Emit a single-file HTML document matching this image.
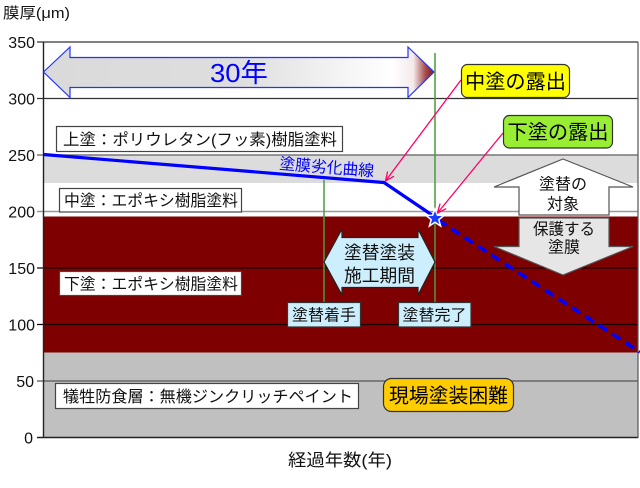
<!DOCTYPE html>
<html><head><meta charset="utf-8">
<style>
html,body{margin:0;padding:0;background:#fff;}
svg{display:block;}
text{font-family:"Liberation Sans","Noto Sans CJK JP",sans-serif;}
</style></head>
<body>
<svg width="640" height="488" viewBox="0 0 640 488" xmlns="http://www.w3.org/2000/svg">
<defs>
<linearGradient id="g30" x1="43" y1="0" x2="435" y2="0" gradientUnits="userSpaceOnUse">
<stop offset="0" stop-color="#dadada"/>
<stop offset="0.5" stop-color="#dedede"/>
<stop offset="0.89" stop-color="#ffffff"/>
<stop offset="0.945" stop-color="#f4eaea"/>
<stop offset="0.975" stop-color="#a65050"/>
<stop offset="1" stop-color="#7a1010"/>
</linearGradient>
<marker id="ah" markerWidth="10" markerHeight="10" refX="9" refY="5" orient="auto" markerUnits="userSpaceOnUse">
<path d="M0,1 L9,5 L0,9" fill="none" stroke="#ff0066" stroke-width="1.3"/>
</marker>
</defs>

<!-- bands -->
<rect x="43.5" y="42" width="594.5" height="395.5" fill="#ffffff"/>
<rect x="43.5" y="155" width="594.5" height="28" fill="#dcdcdc"/>
<rect x="43.5" y="216.5" width="594.5" height="136" fill="#7f0000"/>
<rect x="43.5" y="352.5" width="594.5" height="85" fill="#c0c0c0"/>

<!-- gridlines -->
<line x1="37" y1="42" x2="638" y2="42" stroke="#333" stroke-width="1.2"/>
<line x1="37" y1="98.5" x2="638" y2="98.5" stroke="#333" stroke-width="1.2"/>
<line x1="37" y1="155" x2="638" y2="155" stroke="#777" stroke-width="1.5"/>
<line x1="37" y1="211.5" x2="638" y2="211.5" stroke="#999" stroke-width="1.5"/>
<line x1="37" y1="268" x2="638" y2="268" stroke="#1a0000" stroke-width="1.2"/>
<line x1="37" y1="324.5" x2="638" y2="324.5" stroke="#1a0000" stroke-width="1.2"/>
<line x1="37" y1="381" x2="638" y2="381" stroke="#555" stroke-width="1.2"/>
<line x1="37" y1="437.5" x2="638" y2="437.5" stroke="#222" stroke-width="1.4"/>
<line x1="43.5" y1="42" x2="43.5" y2="438" stroke="#222" stroke-width="1.4"/>
<line x1="638" y1="42" x2="638" y2="438" stroke="#555" stroke-width="1.2"/>

<!-- y labels -->
<g font-size="16" fill="#111" text-anchor="end">
<text x="35" y="48">350</text>
<text x="35" y="104.5">300</text>
<text x="35" y="161">250</text>
<text x="35" y="217.5">200</text>
<text x="35" y="274">150</text>
<text x="35" y="330.5">100</text>
<text x="34" y="387">50</text>
<text x="33" y="443.5">0</text>
</g>
<text x="3" y="18" font-size="15" fill="#111" textLength="67" lengthAdjust="spacingAndGlyphs">膜厚(μm)</text>
<text x="288" y="466" font-size="17" fill="#111" textLength="104" lengthAdjust="spacingAndGlyphs">経過年数(年)</text>

<!-- 30 year arrow -->
<polygon points="43.5,72 70,47 70,57.5 408,57.5 408,47 434,72 408,97.5 408,87.5 70,87.5 70,97.5" fill="url(#g30)" stroke="#2233ff" stroke-width="1.2"/>
<text x="239" y="82" font-size="26" fill="#0000ff" text-anchor="middle" textLength="58" lengthAdjust="spacingAndGlyphs">30年</text>

<!-- green lines -->
<line x1="324" y1="180" x2="324" y2="302" stroke="#4c9a3c" stroke-width="1.5"/>
<line x1="435" y1="53" x2="435" y2="302" stroke="#4c9a3c" stroke-width="1.5"/>

<!-- left labels -->
<rect x="56.5" y="126.5" width="286" height="25" fill="#fff" stroke="#444" stroke-width="1.2"/>
<text x="63" y="145" font-size="16" fill="#111" textLength="274" lengthAdjust="spacingAndGlyphs">上塗：ポリウレタン(フッ素)樹脂塗料</text>
<rect x="59.5" y="188.5" width="182" height="23.5" fill="#fff" stroke="#444" stroke-width="1.2"/>
<text x="64" y="206" font-size="16" fill="#111" textLength="174" lengthAdjust="spacingAndGlyphs">中塗：エポキシ樹脂塗料</text>
<rect x="59.5" y="271.5" width="182" height="24" fill="#fff" stroke="#444" stroke-width="1.2"/>
<text x="64" y="289.5" font-size="16" fill="#111" textLength="174" lengthAdjust="spacingAndGlyphs">下塗：エポキシ樹脂塗料</text>
<rect x="55.5" y="383.5" width="303" height="25" fill="#fff" stroke="#444" stroke-width="1.2"/>
<text x="63" y="402" font-size="16" fill="#111" textLength="290" lengthAdjust="spacingAndGlyphs">犠牲防食層：無機ジンクリッチペイント</text>

<!-- degradation curve -->
<polyline points="43.5,154.5 384,182.5 432,215" fill="none" stroke="#0000ff" stroke-width="3.2" stroke-linejoin="round"/>
<line x1="438" y1="220" x2="640" y2="352" stroke="#0000ff" stroke-width="3.5" stroke-dasharray="10,6"/>
<text x="0" y="0" font-size="16" fill="#0000ff" textLength="95" lengthAdjust="spacingAndGlyphs" transform="translate(279,169) rotate(4.5)">塗膜劣化曲線</text>

<!-- star -->
<polygon points="435,209 437.4,215.2 444,215.5 438.8,219.6 440.6,226 435,222.3 429.4,226 431.2,219.6 426,215.5 432.6,215.2" fill="#1a3cff" stroke="#ffffff" stroke-width="1.5"/>

<!-- pink arrows -->
<line x1="461" y1="80" x2="385.5" y2="181" stroke="#ff0066" stroke-width="1.3" marker-end="url(#ah)"/>
<line x1="503" y1="133" x2="437.5" y2="213" stroke="#ff0066" stroke-width="1.3" marker-end="url(#ah)"/>

<!-- callouts -->
<rect x="461.5" y="64.5" width="108" height="33" rx="6" fill="#ffff00" stroke="#333" stroke-width="1.2"/>
<text x="515.5" y="88.5" font-size="20" fill="#000" text-anchor="middle" textLength="101" lengthAdjust="spacingAndGlyphs">中塗の露出</text>
<rect x="503.5" y="115.5" width="109" height="32.5" rx="6" fill="#99ee33" stroke="#333" stroke-width="1.2"/>
<text x="558" y="139" font-size="20" fill="#000" text-anchor="middle" textLength="101" lengthAdjust="spacingAndGlyphs">下塗の露出</text>
<rect x="383.5" y="378.5" width="130" height="33" rx="8" fill="#ffcc00" stroke="#333" stroke-width="1.2"/>
<text x="448.5" y="402.5" font-size="20" fill="#000" text-anchor="middle" textLength="119" lengthAdjust="spacingAndGlyphs">現場塗装困難</text>

<!-- double arrow -->
<polygon points="324,262 342,229 342,237.5 418,237.5 418,229 435,262 418,295 418,287.5 342,287.5 342,295" fill="#cdeefc" stroke="#222" stroke-width="1.2"/>
<text x="379.5" y="259" font-size="18" fill="#111" text-anchor="middle" textLength="71" lengthAdjust="spacingAndGlyphs">塗替塗装</text>
<text x="379.5" y="282" font-size="18" fill="#111" text-anchor="middle" textLength="71" lengthAdjust="spacingAndGlyphs">施工期間</text>

<!-- blue boxes -->
<rect x="287.5" y="302.5" width="73" height="24.5" fill="#cdeefc" stroke="#333" stroke-width="1.2"/>
<text x="324" y="320.5" font-size="16" fill="#111" text-anchor="middle" textLength="64" lengthAdjust="spacingAndGlyphs">塗替着手</text>
<rect x="398.5" y="302.5" width="72.5" height="24.5" fill="#cdeefc" stroke="#333" stroke-width="1.2"/>
<text x="434.5" y="320.5" font-size="16" fill="#111" text-anchor="middle" textLength="64" lengthAdjust="spacingAndGlyphs">塗替完了</text>

<!-- up/down arrows -->
<polygon points="563,159 633,187 609,187 609,215 519,215 519,187 494,187" fill="#ffffff" stroke="#555" stroke-width="1.2"/>
<text x="563" y="189.5" font-size="16" fill="#111" text-anchor="middle" textLength="48" lengthAdjust="spacingAndGlyphs">塗替の</text>
<text x="563" y="209.5" font-size="16" fill="#111" text-anchor="middle" textLength="32" lengthAdjust="spacingAndGlyphs">対象</text>
<polygon points="519,218 609,218 609,246.5 633,246.5 563,275 494,246.5 519,246.5" fill="#e6e6e6" stroke="#555" stroke-width="1.2"/>
<text x="564" y="234.5" font-size="16" fill="#111" text-anchor="middle" textLength="62" lengthAdjust="spacingAndGlyphs">保護する</text>
<text x="564" y="252.5" font-size="16" fill="#111" text-anchor="middle" textLength="32" lengthAdjust="spacingAndGlyphs">塗膜</text>
</svg>
</body></html>
